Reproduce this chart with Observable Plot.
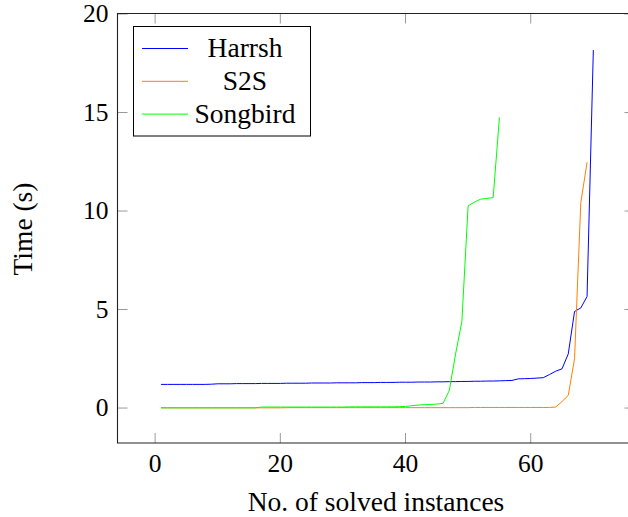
<!DOCTYPE html>
<html>
<head>
<meta charset="utf-8">
<script src="https://cdn.jsdelivr.net/npm/d3@7"></script>
<script src="https://cdn.jsdelivr.net/npm/@observablehq/plot@0.6"></script>
<style>
  html, body { margin: 0; padding: 0; background: #fff; overflow: hidden; }
</style>
</head>
<body>
<div id="chart"></div>
<script>
// ---- data ----
const seriesNames = ["Harrsh", "S2S", "Songbird"];
const seriesColors = ["#0000ff", "#ff8000", "#00ff00"];

// y values for instances 1..n
const harrsh = [
  1.20, 1.20, 1.20, 1.20, 1.20, 1.20, 1.20, 1.20, 1.21, 1.23,
  1.23, 1.23, 1.24, 1.24, 1.24, 1.24, 1.25, 1.25, 1.25, 1.25,
  1.26, 1.26, 1.26, 1.26, 1.27, 1.27, 1.27, 1.27, 1.28, 1.28,
  1.28, 1.28, 1.29, 1.29, 1.29, 1.30, 1.30, 1.30, 1.31, 1.31,
  1.31, 1.32, 1.32, 1.32, 1.33, 1.33, 1.34, 1.34, 1.35, 1.35,
  1.36, 1.36, 1.37, 1.37, 1.38, 1.39, 1.40,
  1.48, 1.49, 1.50, 1.52, 1.54, 1.70, 1.87, 1.99, 2.75, 4.90, 5.08, 5.66, 18.15
];
const s2s = [
  0.01, 0.01, 0.01, 0.01, 0.01, 0.01, 0.01, 0.01, 0.01, 0.01,
  0.01, 0.01, 0.01, 0.01, 0.01, 0.01, 0.01, 0.01, 0.01, 0.01,
  0.02, 0.02, 0.02, 0.02, 0.02, 0.02, 0.02, 0.02, 0.02, 0.02,
  0.02, 0.02, 0.02, 0.02, 0.02, 0.02, 0.02, 0.02, 0.02, 0.02,
  0.02, 0.02, 0.02, 0.02, 0.02, 0.02, 0.02, 0.02, 0.02, 0.02,
  0.03, 0.03, 0.03, 0.03, 0.03, 0.03, 0.03, 0.03, 0.03, 0.03,
  0.03, 0.03, 0.03,
  0.05, 0.33, 0.64, 2.50, 10.43, 12.46
];
const songbird = [
  0.01, 0.01, 0.01, 0.01, 0.01, 0.01, 0.01, 0.01, 0.01, 0.01,
  0.01, 0.01, 0.01, 0.01, 0.01, 0.01,
  0.05, 0.05, 0.05, 0.05, 0.05, 0.05, 0.05, 0.05, 0.05, 0.05,
  0.05, 0.05, 0.05, 0.05,
  0.06, 0.06, 0.06, 0.06, 0.06, 0.06, 0.06, 0.06, 0.07, 0.08,
  0.12, 0.15, 0.17, 0.18, 0.20, 0.24, 0.90, 2.75, 4.39, 10.26,
  10.45, 10.60, 10.64, 10.68, 14.73
];
const xTicks = [0, 20, 40, 60];
const yTicks = [0, 5, 10, 15, 20];
const xLabel = "No. of solved instances";
const yLabel = "Time (s)";

// ---- table built from the arrays ----
const seriesValues = [harrsh, s2s, songbird];
const data = seriesNames.flatMap((name, s) =>
  seriesValues[s].map((v, i) => ({series: name, x: i + 1, y: v}))
);

const W = 628, H = 517;
const mTop = 13.5, mLeft = 117.5, mRight = 0, mBottom = 74;
const frameW = W - mLeft - mRight, frameH = H - mTop - mBottom;
const tickLen = 10;
const cut = 6.5; // the axis box extends this far past the right edge of the picture
const font = "'Liberation Serif', 'Times New Roman', serif";

const chart = Plot.plot({
  width: W,
  height: H,
  marginTop: mTop,
  marginLeft: mLeft,
  marginRight: mRight,
  marginBottom: mBottom,
  style: {fontFamily: font, fontSize: "25.5px", color: "#000", background: "#fff", overflow: "hidden"},
  x: {domain: [-5.93, 75.62]},
  y: {domain: [-1.8, 20]},
  color: {domain: seriesNames, range: seriesColors},
  marks: [
    // tick labels
    Plot.axisX(xTicks, {anchor: "bottom", tickSize: 0, tickPadding: 10, label: null, fontSize: 25.5}),
    Plot.axisY(yTicks, {anchor: "left", tickSize: 0, tickPadding: 9.5, label: null, fontSize: 25.5}),
    // inward tick marks on all sides
    Plot.ruleX(xTicks, {stroke: "#9a9a9a", strokeWidth: 1, insetTop: frameH - tickLen}),
    Plot.ruleX(xTicks, {stroke: "#9a9a9a", strokeWidth: 1, insetBottom: frameH - tickLen}),
    Plot.ruleY(yTicks, {stroke: "#9a9a9a", strokeWidth: 1, insetRight: frameW - tickLen}),
    Plot.ruleY(yTicks, {stroke: "#9a9a9a", strokeWidth: 1, insetLeft: frameW - (tickLen - cut)}),
    // data lines
    Plot.line(data, {x: "x", y: "y", z: "series", stroke: "series", strokeWidth: 1})
  ]
});

document.getElementById("chart").appendChild(chart);

// ---- axis box (top, left, bottom; the right side is outside the picture) ----
const svg = d3.select(chart);
const [xl, xr] = chart.scale("x").range;
const [yb, yt] = chart.scale("y").range;
const box = svg.append("path")
  .attr("d", `M${xr + cut},${yt}H${xl}V${yb}H${xr + cut}`)
  .attr("fill", "none").attr("stroke", "#222").attr("stroke-width", 1.1);

// ---- axis titles and legend (layout) ----
svg.append("text")
  .attr("x", 376).attr("y", 511)
  .attr("text-anchor", "middle")
  .attr("font-family", font).attr("font-size", 27.5).attr("fill", "#000")
  .text(xLabel);
svg.append("text")
  .attr("transform", "translate(32,229) rotate(-90)")
  .attr("text-anchor", "middle")
  .attr("font-family", font).attr("font-size", 27.5).attr("fill", "#000")
  .text(yLabel);

const lg = svg.append("g");
lg.append("rect")
  .attr("x", 133.5).attr("y", 26.5).attr("width", 177).attr("height", 109.5)
  .attr("fill", "#fff").attr("stroke", "#000").attr("stroke-width", 1);
seriesNames.forEach((name, i) => {
  const cy = 48.5 + i * 32.8;
  lg.append("line")
    .attr("x1", 142).attr("x2", 188).attr("y1", cy).attr("y2", cy)
    .attr("stroke", seriesColors[i]).attr("stroke-width", 1);
  lg.append("text")
    .attr("x", 245).attr("y", cy + 8.5)
    .attr("text-anchor", "middle")
    .attr("font-family", font).attr("font-size", 27.5).attr("fill", "#000")
    .text(name);
});
</script>
</body>
</html>
